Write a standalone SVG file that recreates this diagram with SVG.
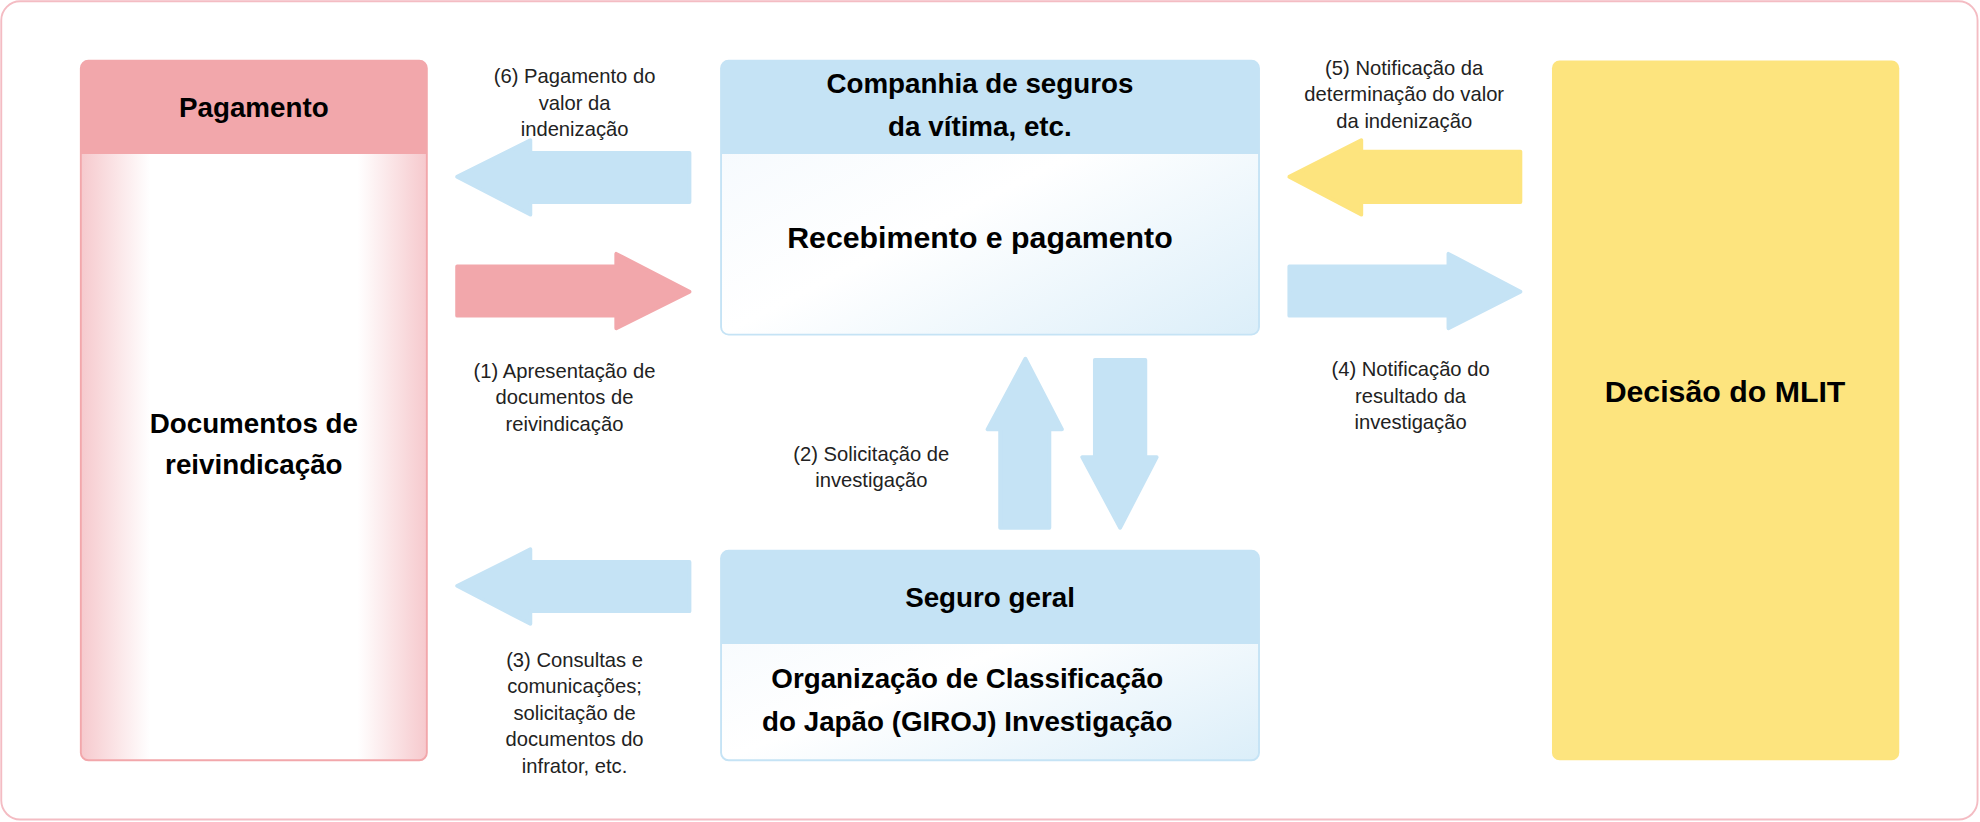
<svg xmlns="http://www.w3.org/2000/svg" width="1980" height="822" viewBox="0 0 1980 822">
<style>
.b{font-family:"Liberation Sans",Arial,sans-serif;font-weight:bold;fill:#000;text-anchor:middle}
.l{font-family:"Liberation Sans",Arial,sans-serif;font-size:16px;fill:#222;text-anchor:middle}
</style>
<defs>
<linearGradient id="pg" x1="0" x2="1" y1="0" y2="0">
<stop offset="0" stop-color="#f6c9cd"/><stop offset="0.2" stop-color="#fff"/><stop offset="0.8" stop-color="#fff"/><stop offset="1" stop-color="#f6c9cd"/></linearGradient>
<linearGradient id="bg" x1="0" x2="1" y1="0" y2="1">
<stop offset="0" stop-color="#f2f8fd"/><stop offset="0.5" stop-color="#fff"/><stop offset="1" stop-color="#dbeef9"/></linearGradient>
</defs>
<g transform="scale(1.2628)">
<rect x="1" y="1" width="1565" height="648" rx="15" fill="#fff" stroke="#f4bcc3" stroke-width="1.5"/>
<g id="pagamento">
<rect x="64" y="48" width="274" height="554" rx="6" fill="url(#pg)" stroke="#f2a7ab" stroke-width="1.5"/>
<path d="M64 122V54a6 6 0 0 1 6-6h262a6 6 0 0 1 6 6v68z" fill="#f2a7ab"/>
<text class="b" x="201" y="93" font-size="22">Pagamento</text>
<text class="b" x="201" y="343" font-size="22">Documentos de</text>
<text class="b" x="201" y="375" font-size="22">reivindicação</text>
</g>
<g id="companhia">
<rect x="571" y="48" width="426" height="217" rx="6" fill="url(#bg)" stroke="#c5e3f5" stroke-width="1.5"/>
<path d="M571 122V54a6 6 0 0 1 6-6h414a6 6 0 0 1 6 6v68z" fill="#c5e3f5"/>
<text class="b" x="776" y="74" font-size="22">Companhia de seguros</text>
<text class="b" x="776" y="108" font-size="22">da vítima, etc.</text>
<text class="b" x="776" y="196" font-size="24">Recebimento e pagamento</text>
</g>
<g id="seguro">
<rect x="571" y="436" width="426" height="166" rx="6" fill="url(#bg)" stroke="#c5e3f5" stroke-width="1.5"/>
<path d="M571 510V442a6 6 0 0 1 6-6h414a6 6 0 0 1 6 6v68z" fill="#c5e3f5"/>
<text class="b" x="784" y="481" font-size="22">Seguro geral</text>
<text class="b" x="766" y="545" font-size="22">Organização de Classificação</text>
<text class="b" x="766" y="579" font-size="22">do Japão (GIROJ) Investigação</text>
</g>
<g id="decisao">
<rect x="1229" y="48" width="275" height="554" rx="6" fill="#fde47e"/>
<text class="b" x="1366" y="318" font-size="24">Decisão do MLIT</text>
</g>
<g id="connectors" stroke-linejoin="round" stroke-width="3">
<path d="M546 121V160H420V170L362 140L420 111V121Z" fill="#c5e3f5" stroke="#c5e3f5"/>
<path d="M362 211V250H488V260L546 231L488 201V211Z" fill="#f2a7ab" stroke="#f2a7ab"/>
<path d="M1204 120V160H1078V170L1021 140L1078 111V120Z" fill="#fde47e" stroke="#fde47e"/>
<path d="M1021 211V250H1147V260L1204 231L1147 201V211Z" fill="#c5e3f5" stroke="#c5e3f5"/>
<path d="M546 445V484H420V494L362 464L420 435V445Z" fill="#c5e3f5" stroke="#c5e3f5"/>
<path d="M792 418H831V340H841L812 284L782 340H792Z" fill="#c5e3f5" stroke="#c5e3f5"/>
<path d="M867 285H907V362H916L887 418L857 362H867Z" fill="#c5e3f5" stroke="#c5e3f5"/>
</g>
<g id="labels">
<text class="l" x="455" y="66">(6) Pagamento do</text><text class="l" x="455" y="87">valor da</text><text class="l" x="455" y="108">indenização</text>
<text class="l" x="447" y="299">(1) Apresentação de</text><text class="l" x="447" y="320">documentos de</text><text class="l" x="447" y="341">reivindicação</text>
<text class="l" x="690" y="365">(2) Solicitação de</text><text class="l" x="690" y="386">investigação</text>
<text class="l" x="455" y="528">(3) Consultas e</text><text class="l" x="455" y="549">comunicações;</text><text class="l" x="455" y="570">solicitação de</text><text class="l" x="455" y="591">documentos do</text><text class="l" x="455" y="612">infrator, etc.</text>
<text class="l" x="1112" y="59">(5) Notificação da</text><text class="l" x="1112" y="80">determinação do valor</text><text class="l" x="1112" y="101">da indenização</text>
<text class="l" x="1117" y="298">(4) Notificação do</text><text class="l" x="1117" y="319">resultado da</text><text class="l" x="1117" y="340">investigação</text>
</g>
</g>
</svg>
